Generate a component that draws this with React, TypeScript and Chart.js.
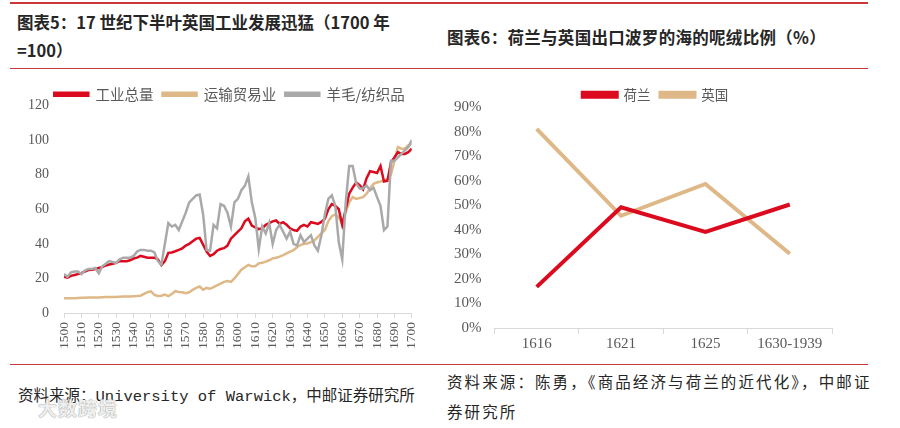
import React, { useEffect, useRef } from "react";
import { Chart, registerables } from "chart.js";

Chart.register(...registerables);

// ---------- Data: left chart (1700 = 100) ----------
const years = [
  1500, 1502, 1504, 1506, 1508, 1510, 1512, 1514, 1516, 1518,
  1520, 1522, 1524, 1526, 1528, 1530, 1532, 1534, 1536, 1538,
  1540, 1542, 1544, 1546, 1548, 1550, 1552, 1554, 1556, 1558,
  1560, 1562, 1564, 1566, 1568, 1570, 1572, 1574, 1576, 1578,
  1580, 1582, 1584, 1586, 1588, 1590, 1592, 1594, 1596, 1598,
  1600, 1602, 1604, 1606, 1608, 1610, 1612, 1614, 1616, 1618,
  1620, 1622, 1624, 1626, 1628, 1630, 1632, 1634, 1636, 1638,
  1640, 1642, 1644, 1646, 1648, 1650, 1652, 1654, 1656, 1658,
  1660, 1662, 1664, 1666, 1668, 1670, 1672, 1674, 1676, 1678,
  1680, 1682, 1684, 1686, 1688, 1690, 1692, 1694, 1696, 1698,
  1700,
];

const industryTotal = [
  21, 20.5, 21.5, 22, 22.5, 23, 24, 24.8, 25, 25.4,
  26, 26.5, 27.5, 28, 28.5, 29, 30, 30, 30, 30.5,
  31.5, 32, 33, 32.5, 32, 32, 32, 31, 27.7, 30,
  34.8, 35, 35.7, 36.5, 37.4, 39, 40, 41.5, 43, 43.4,
  39.5, 35.5, 33, 34, 36, 37, 37.5, 39, 43, 45,
  47, 49, 53, 54.5, 50.5, 49.5, 48.5, 49, 51, 52,
  53, 53.5, 51.5, 52.5, 51, 49, 48, 47.5, 50, 51,
  50, 52.5, 52, 51.5, 52.7, 54.5, 60, 63, 62, 60,
  51, 60, 69, 72.5, 75.5, 74, 71.5, 78, 82, 81.5,
  81, 85, 76, 76.5, 87, 90, 93, 92, 92, 93,
  95,
];

const transportTrade = [
  8.5, 8.5, 8.5, 8.6, 8.7, 8.8, 8.8, 8.9, 9, 9,
  9, 9.1, 9.2, 9.2, 9.3, 9.3, 9.4, 9.5, 9.5, 9.6,
  9.7, 9.8, 10, 11, 12, 12.5, 10.5, 9.8, 10, 10.7,
  9.8, 11, 12.6, 12.2, 12, 11.5, 12, 13.4, 14.5, 15.3,
  13.5, 14.5, 14, 15, 16, 17, 18, 18.5, 18, 20,
  22.5, 25, 26.5, 27.8, 27, 27, 28.7, 29, 29.7, 30.5,
  31.6, 32, 32.6, 33.5, 34.5, 35.5, 36.4, 38, 39.3, 40,
  40.2, 41, 42, 44, 46, 48, 53, 56, 57, 55.5,
  50.8, 58.4, 64, 67, 66, 66.5, 67, 69, 72, 74.7,
  75.5, 76, 76.6, 77.5, 80, 88, 96, 95, 95, 97,
  98,
];

const woolTextile = [
  22.5, 21, 23.5, 24, 24, 22.5, 24.5, 25.5, 25.5, 26,
  23, 27, 28.5, 30, 29.5, 29, 31, 32, 32, 32,
  33, 35.5, 36.5, 36.5, 36, 36, 35, 30, 28, 40,
  52, 50, 51, 48, 53, 58, 64, 66, 68, 68.5,
  57, 36.5, 36, 51, 49, 63, 62, 58, 50, 64,
  66, 71, 73.5, 79, 64, 55, 37, 50, 46, 52,
  40, 48, 51, 47, 43, 47, 40, 39, 45, 41,
  43, 45, 39, 36, 45, 57, 66, 68, 62, 41,
  31, 64, 85, 85, 75, 72, 72, 73.7, 71, 72.5,
  67, 62, 48, 50, 88, 88, 90, 92, 94, 96,
  100,
];

// ---------- Data: right chart (%) ----------
const periods = ["1616", "1621", "1625", "1630-1939"];
const netherlandsShare = [16.8, 49.3, 39.2, 50.4];
const englandShare = [81.3, 45.8, 58.8, 30.3];

// ---------- Styles ----------
const RED = "#DC0A1E";
const TAN = "#DEB887";
const GRAY = "#A9A9A9";
const RULE = "#C8383B";
const TICK_COLOR = "#595959";
const AXIS_COLOR = "#D9D9D9";
const SERIF = "'Liberation Serif', 'Times New Roman', serif";
const CJK = "'Noto Sans CJK SC', 'Noto Sans', sans-serif";

// shifts the legend box by options.dx / options.dy pixels after layout
const shiftLegend = {
  id: "shiftLegend",
  afterLayout(chart: any, _args: any, opts: any) {
    const dx = (opts && opts.dx) || 0;
    const dy = (opts && opts.dy) || 0;
    const lg = chart.legend;
    if (!lg) return;
    lg.left += dx;
    lg.right += dx;
    lg.top += dy;
    lg.bottom += dy;
  },
};

function LeftChart() {
  const ref = useRef<HTMLCanvasElement | null>(null);
  useEffect(() => {
    if (!ref.current) return;
    const mk = (vals: number[]) => years.map((y, i) => ({ x: y, y: vals[i] }));
    const chart = new Chart(ref.current, {
      type: "line",
      plugins: [shiftLegend],
      data: {
        datasets: [
          {
            label: "工业总量",
            data: mk(industryTotal),
            borderColor: RED,
            backgroundColor: RED,
            borderWidth: 2.5,
            pointRadius: 0,
            tension: 0,
            order: 1,
          },
          {
            label: "运输贸易业",
            data: mk(transportTrade),
            borderColor: TAN,
            backgroundColor: TAN,
            borderWidth: 2.5,
            pointRadius: 0,
            tension: 0,
            order: 2,
          },
          {
            label: "羊毛/纺织品",
            data: mk(woolTextile),
            borderColor: GRAY,
            backgroundColor: GRAY,
            borderWidth: 2.5,
            pointRadius: 0,
            tension: 0,
            order: 0,
          },
        ],
      },
      options: {
        animation: false,
        responsive: false,
        layout: { padding: { left: 13, right: 10, top: 4, bottom: 9 } },
        plugins: {
          tooltip: { enabled: false },
          shiftLegend: { dx: 12, dy: 6 },
          legend: {
            labels: {
              boxWidth: 34,
              boxHeight: 3,
              padding: 9,
              color: TICK_COLOR,
              font: { family: CJK, size: 14.5 },
              sort: (a: any, b: any) => a.datasetIndex - b.datasetIndex,
            },
          },
        },
        scales: {
          x: {
            type: "linear",
            min: 1500,
            max: 1700,
            ticks: {
              stepSize: 10,
              autoSkip: false,
              minRotation: 90,
              maxRotation: 90,
              padding: 4,
              color: TICK_COLOR,
              font: { family: SERIF, size: 13.5 },
              callback: (v: any) => String(v),
            },
            grid: { drawOnChartArea: false, tickLength: 5, color: AXIS_COLOR },
            border: { color: AXIS_COLOR },
          },
          y: {
            min: 0,
            max: 120,
            ticks: {
              stepSize: 20,
              padding: 15,
              color: TICK_COLOR,
              font: { family: SERIF, size: 14 },
            },
            grid: { display: false, drawTicks: false },
            border: { display: false },
          },
        },
      },
    } as any);
    return () => chart.destroy();
  }, []);
  return (
    <canvas
      ref={ref}
      width={432}
      height={294}
      style={{ position: "absolute", left: 0, top: 68, width: 432, height: 294 }}
    />
  );
}

function RightChart() {
  const ref = useRef<HTMLCanvasElement | null>(null);
  useEffect(() => {
    if (!ref.current) return;
    const chart = new Chart(ref.current, {
      type: "line",
      plugins: [shiftLegend],
      data: {
        labels: periods,
        datasets: [
          {
            label: "荷兰",
            data: netherlandsShare,
            borderColor: RED,
            backgroundColor: RED,
            borderWidth: 4,
            pointRadius: 0,
            tension: 0,
          },
          {
            label: "英国",
            data: englandShare,
            borderColor: TAN,
            backgroundColor: TAN,
            borderWidth: 4,
            pointRadius: 0,
            tension: 0,
          },
        ],
      },
      options: {
        animation: false,
        responsive: false,
        layout: { padding: { left: 5, right: 36, top: 4, bottom: 8 } },
        plugins: {
          tooltip: { enabled: false },
          shiftLegend: { dx: 19, dy: 4 },
          legend: {
            labels: {
              boxWidth: 34,
              boxHeight: 4,
              padding: 10,
              color: TICK_COLOR,
              font: { family: CJK, size: 13.5 },
            },
          },
        },
        scales: {
          x: {
            offset: true,
            ticks: {
              padding: 1,
              color: TICK_COLOR,
              font: { family: SERIF, size: 15 },
            },
            grid: { offset: true, drawOnChartArea: false, tickLength: 6, color: AXIS_COLOR },
            border: { color: AXIS_COLOR },
          },
          y: {
            min: 0,
            max: 90,
            ticks: {
              stepSize: 10,
              padding: 13,
              color: TICK_COLOR,
              font: { family: SERIF, size: 15 },
              callback: (v: any) => v + "%",
            },
            grid: { display: false, drawTicks: false },
            border: { display: false },
          },
        },
      },
    } as any);
    return () => chart.destroy();
  }, []);
  return (
    <canvas
      ref={ref}
      width={432}
      height={292}
      style={{ position: "absolute", left: 436, top: 70, width: 432, height: 292 }}
    />
  );
}

const rule = (top: number, h: number): React.CSSProperties => ({
  position: "absolute",
  left: 10,
  width: 858,
  top,
  height: h,
  background: RULE,
});

export default function App() {
  return (
    <div
      style={{
        position: "absolute",
        left: 0,
        top: 0,
        width: 900,
        height: 428,
        background: "#fff",
        overflow: "hidden",
      }}
    >
      <div style={rule(1.5, 2)} />
      <div style={rule(67.5, 1.5)} />
      <div style={rule(363.5, 1.5)} />

      <div
        style={{
          position: "absolute",
          left: 17,
          top: 8,
          width: 410,
          fontFamily: CJK,
          fontWeight: 700,
          fontSize: 16.5,
          lineHeight: "28px",
          color: "#262626",
          whiteSpace: "nowrap",
        }}
      >
        图表5：17 世纪下半叶英国工业发展迅猛（1700 年
        <br />
        =100）
      </div>

      <div
        style={{
          position: "absolute",
          left: 447,
          top: 23,
          fontFamily: CJK,
          fontWeight: 700,
          fontSize: 16.5,
          letterSpacing: 0.3,
          lineHeight: "28px",
          color: "#262626",
          whiteSpace: "nowrap",
        }}
      >
        图表6：荷兰与英国出口波罗的海的呢绒比例（%）
      </div>

      <LeftChart />
      <RightChart />

      <div
        style={{
          position: "absolute",
          left: 18,
          top: 386,
          fontFamily: "'Liberation Mono', 'Noto Sans CJK SC', monospace",
          fontSize: 15.5,
          lineHeight: "22px",
          color: "#262626",
          whiteSpace: "nowrap",
        }}
      >
        资料来源：University of Warwick，中邮证券研究所
      </div>

      <div
        style={{
          position: "absolute",
          left: 447,
          top: 366,
          fontFamily: CJK,
          fontSize: 15.5,
          letterSpacing: 2.1,
          lineHeight: "30px",
          color: "#262626",
          whiteSpace: "nowrap",
        }}
      >
        资料来源：陈勇，《商品经济与荷兰的近代化》，中邮证
        <br />
        券研究所
      </div>

      <div
        style={{
          position: "absolute",
          left: 38,
          top: 394,
          fontFamily: CJK,
          fontWeight: 700,
          fontSize: 19,
          color: "rgba(255,255,255,0.85)",
          textShadow: "0 0 1px #999, 0 0 1px #999",
          letterSpacing: 1,
        }}
      >
        大数跨境
      </div>
    </div>
  );
}
